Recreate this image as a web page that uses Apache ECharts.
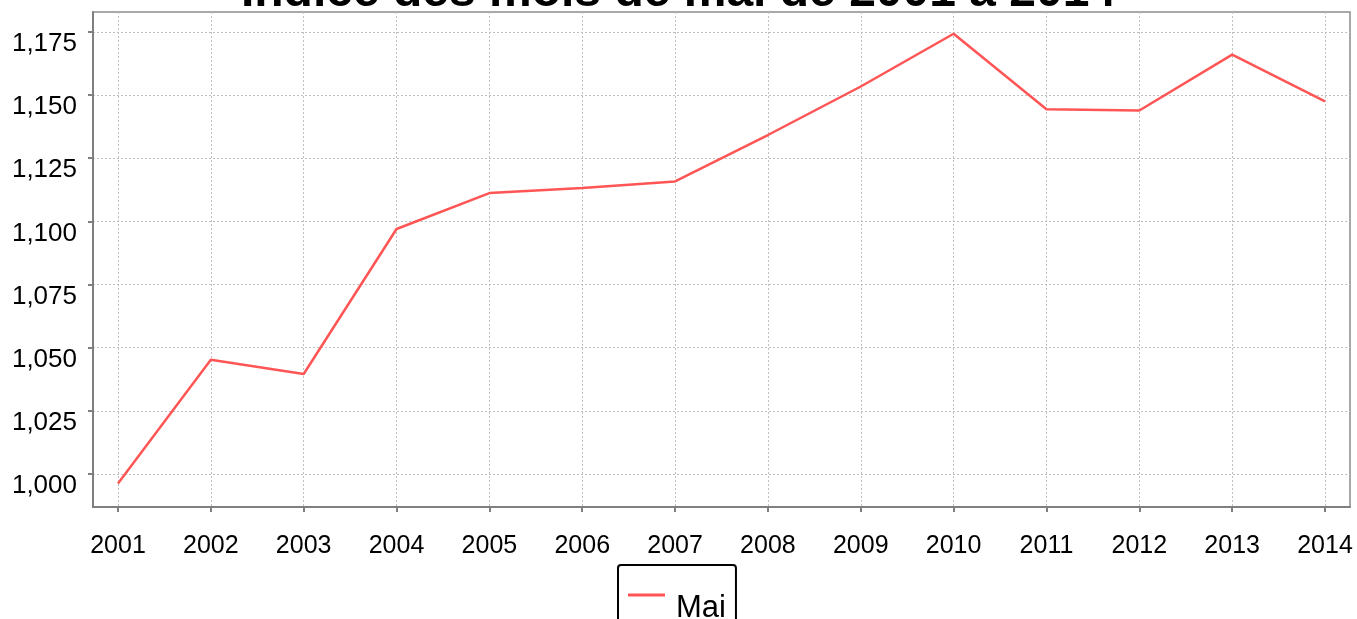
<!DOCTYPE html>
<html>
<head>
<meta charset="utf-8">
<script src="https://cdn.jsdelivr.net/npm/echarts@6/dist/echarts.min.js"></script>
<style>
html,body{margin:0;padding:0;background:#fff;}
#chart{width:1357px;height:619px;}
</style>
</head>
<body>
<div id="chart"></div>
<script>
const years = [2001, 2002, 2003, 2004, 2005, 2006, 2007, 2008, 2009, 2010, 2011, 2012, 2013, 2014];
const maiValues = [0.9962, 1.0452, 1.0396, 1.0970, 1.1112, 1.1132, 1.1158, 1.1342, 1.1534, 1.1743, 1.1444, 1.1439, 1.1660, 1.1475];
const yTicks = [1.000, 1.025, 1.050, 1.075, 1.100, 1.125, 1.150, 1.175];
const seriesName = 'Mai';
const titleText = 'Indice des mois de mai de 2001 à 2014';

const FONT = '"Liberation Sans", Arial, sans-serif';
const chart = echarts.init(document.getElementById('chart'), null, {renderer: 'canvas'});

const option = {
  backgroundColor: '#ffffff',
  animation: false,
  title: {
    text: titleText,
    left: 'center',
    top: -36,
    textStyle: {fontFamily: FONT, fontSize: 48, fontWeight: 'bold', color: '#000'}
  },
  grid: {
    left: 93, right: 7, top: 12, bottom: 112,
    show: true, borderColor: '#8c8c8c', borderWidth: 1.5, backgroundColor: '#fff'
  },
  legend: {
    data: [seriesName],
    left: 618, top: 565,
    orient: 'horizontal',
    padding: [1, 10, 0, 10],
    borderColor: '#000', borderWidth: 2, borderRadius: 3,
    icon: 'rect', itemWidth: 37, itemHeight: 3, itemGap: 10,
    formatter: name => '{t|' + name + '}',
    textStyle: {
      fontFamily: FONT, fontSize: 31, color: '#000',
      rich: {t: {fontFamily: FONT, fontSize: 31, color: '#000', lineHeight: 31, padding: [27, 0, 0, 6]}}
    }
  },
  xAxis: {
    type: 'value',
    min: 2000.731, max: 2014.269,
    axisLine: {show: true, lineStyle: {color: '#808080', width: 2}},
    axisTick: {show: true, length: 5, lineStyle: {color: '#808080', width: 2}, customValues: years},
    axisLabel: {
      customValues: years, margin: 27,
      fontFamily: FONT, fontSize: 25, color: '#000',
      formatter: v => String(Math.round(v))
    },
    splitLine: {show: true, lineStyle: {color: '#c0c0c0', type: [2, 2], width: 1}}
  },
  yAxis: {
    type: 'value',
    min: 0.98693, max: 1.1829,
    axisLine: {show: true, lineStyle: {color: '#808080', width: 2}},
    axisTick: {show: true, length: 5, lineStyle: {color: '#808080', width: 2}, customValues: yTicks},
    axisLabel: {
      customValues: yTicks, margin: 16,
      fontFamily: FONT, fontSize: 26, color: '#000',
      verticalAlign: 'top', lineHeight: 24,
      formatter: v => v.toFixed(3).replace('.', ',')
    },
    splitLine: {show: true, lineStyle: {color: '#c0c0c0', type: [2, 2], width: 1}}
  },
  series: [{
    name: seriesName,
    type: 'line',
    data: years.map((y, i) => [y, maiValues[i]]),
    showSymbol: false,
    symbol: 'none',
    lineStyle: {color: '#ff5555', width: 2.5},
    itemStyle: {color: '#ff5555'}
  }]
};
chart.setOption(option);
</script>
</body>
</html>
